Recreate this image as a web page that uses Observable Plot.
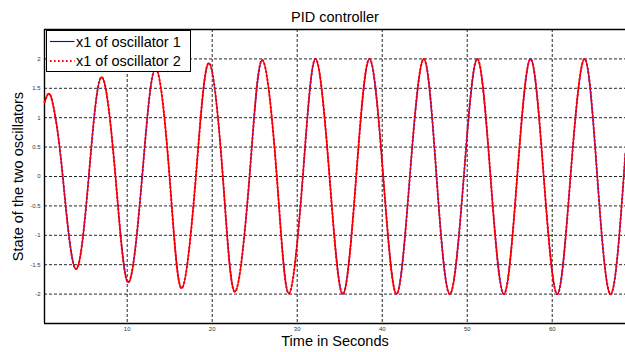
<!DOCTYPE html>
<html>
<head>
<meta charset="utf-8">
<script src="https://cdn.jsdelivr.net/npm/d3@7"></script>
<script src="https://cdn.jsdelivr.net/npm/@observablehq/plot@0.6"></script>
<style>
  html, body { margin: 0; padding: 0; background: #fff; }
  #wrap { position: relative; width: 625px; height: 352px; font-family: "Liberation Sans", Arial, sans-serif; }
  #legend { position: absolute; left: 46px; top: 30px; width: 143px; height: 40px; border: 1.3px solid #000; background: #fff; }
  #legend svg { display: block; }
</style>
</head>
<body>
<div id="wrap"></div>
<script>
// ---- data ----
const titleText = "PID controller";
const xLabel = "Time in Seconds";
const yLabel = "State of the two oscillators";
const seriesNames = ["x1 of oscillator 1", "x1 of oscillator 2"];
const seriesColors = ["#0000ff", "#ff0000"];

// time (s) of sampled points: start, extrema and zero crossings
const time = [
  0.27, 0.89, 1.56, 2.42, 3.92, 5.48, 6.98, 8.62, 10.12, 11.76, 13.33,
  14.98, 16.39, 18.08, 19.6, 21.25, 22.66, 24.39, 25.88, 27.6, 29.01,
  30.66, 32.15, 33.8, 35.36, 36.94, 38.5, 40.12, 41.68, 43.25, 44.89,
  46.39, 47.95, 49.6, 51.18, 52.74, 54.31, 55.88, 57.45, 59.0, 60.59,
  62.15, 63.8, 65.3, 66.92, 68.62
];
const osc1 = [
  1.26, 1.40, 1.0, 0, -1.57, 0, 1.69, 0, -1.80, 0, 1.84,
  0, -1.90, 0, 1.93, 0, -1.96, 0, 1.98, 0, -1.99,
  0, 2.0, 0, -2.0, 0, 2.0, 0, -2.0, 0, 2.0,
  0, -2.0, 0, 2.0, 0, -2.0, 0, 2.0, 0, -2.0,
  0, 2.0, 0, -2.0, 0.42
];
const osc2 = [
  1.26, 1.40, 1.0, 0, -1.57, 0, 1.69, 0, -1.80, 0, 1.84,
  0, -1.90, 0, 1.93, 0, -1.96, 0, 1.98, 0, -1.99,
  0, 2.0, 0, -2.0, 0, 2.0, 0, -2.0, 0, 2.0,
  0, -2.0, 0, 2.0, 0, -2.0, 0, 2.0, 0, -2.0,
  0, 2.0, 0, -2.0, 0.42
];
const xDomain = [0.27, 68.62];
const yDomain = [-2.5, 2.5];
const xTicks = [10, 20, 30, 40, 50, 60];
const yTicks = [-2, -1.5, -1, -0.5, 0, 0.5, 1, 1.5, 2];

// ---- build ----
const d1 = time.map((t, i) => ({t, v: osc1[i]}));
const d2 = time.map((t, i) => ({t, v: osc2[i]}));
const font = "Liberation Sans, Arial, sans-serif";

const chart = Plot.plot({
  width: 625,
  height: 352,
  marginLeft: 44,
  marginRight: 0,
  marginTop: 29,
  marginBottom: 29,
  style: {fontFamily: font, background: "#fff", overflow: "visible"},
  x: {domain: xDomain},
  y: {domain: yDomain},
  marks: [
    Plot.gridX(xTicks, {stroke: "#000", strokeOpacity: 0.85, strokeDasharray: "3,2", strokeWidth: 1}),
    Plot.gridY(yTicks, {stroke: "#000", strokeOpacity: 0.85, strokeDasharray: "3,2", strokeWidth: 1}),
    Plot.ruleY(yDomain, {stroke: "#000", strokeWidth: 1.4}),
    Plot.ruleX([xDomain[0]], {stroke: "#000", strokeWidth: 1.4}),
    Plot.axisX({ticks: xTicks, tickSize: 0, tickPadding: 3, fontSize: 6, color: "#333", label: null, tickFormat: d => String(d)}),
    Plot.axisY({ticks: yTicks, tickSize: 0, tickPadding: 4, fontSize: 6, color: "#333", label: null, tickFormat: d => String(d)}),
    Plot.line(d1, {x: "t", y: "v", stroke: seriesColors[0], strokeWidth: 1.1, curve: "natural"}),
    Plot.line(d2, {x: "t", y: "v", stroke: seriesColors[1], strokeWidth: 2, strokeDasharray: "1.6,2.4", curve: "natural"}),
    Plot.text([titleText], {frameAnchor: "top", lineAnchor: "middle", textAnchor: "middle", dy: -12, fontSize: 14.5, fill: "#000"}),
    Plot.text([xLabel], {frameAnchor: "bottom", lineAnchor: "middle", textAnchor: "middle", dy: 18, fontSize: 14.5, fill: "#000"}),
    Plot.text([yLabel], {frameAnchor: "left", lineAnchor: "middle", textAnchor: "middle", dx: -26.5, rotate: -90, fontSize: 14.5, fill: "#000"})
  ]
});

const wrap = document.getElementById("wrap");
wrap.appendChild(chart);

// legend box
const leg = document.createElement("div");
leg.id = "legend";
const ns = "http://www.w3.org/2000/svg";
const lsvg = document.createElementNS(ns, "svg");
lsvg.setAttribute("width", 143);
lsvg.setAttribute("height", 40);
seriesNames.forEach((name, i) => {
  const yy = 10.5 + i * 19.5;
  const ln = document.createElementNS(ns, "line");
  ln.setAttribute("x1", 3); ln.setAttribute("x2", 27.5);
  ln.setAttribute("y1", yy); ln.setAttribute("y2", yy);
  ln.setAttribute("stroke", seriesColors[i]);
  ln.setAttribute("stroke-width", i === 0 ? 1.1 : 2);
  if (i === 1) ln.setAttribute("stroke-dasharray", "1.6,2.4");
  lsvg.appendChild(ln);
  const tx = document.createElementNS(ns, "text");
  tx.setAttribute("x", 29);
  tx.setAttribute("y", yy);
  tx.setAttribute("dy", "0.35em");
  tx.setAttribute("font-size", 14.5);
  tx.setAttribute("font-family", font);
  tx.textContent = name;
  lsvg.appendChild(tx);
});
leg.appendChild(lsvg);
wrap.appendChild(leg);
</script>
</body>
</html>
